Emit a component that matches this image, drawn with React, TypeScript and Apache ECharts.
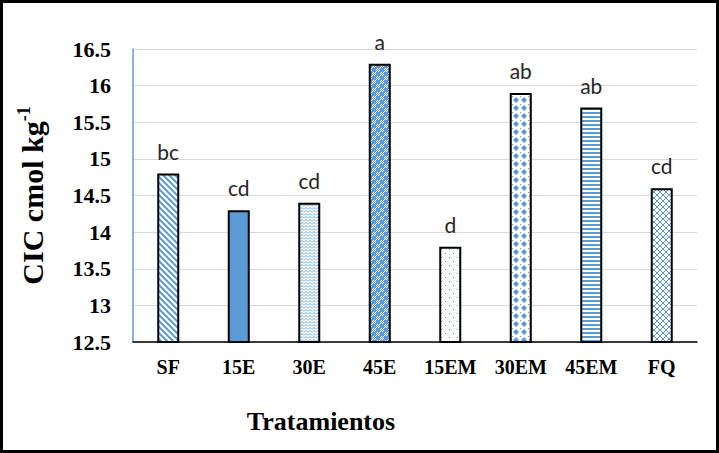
import React, { useEffect, useRef } from "react";
import * as echarts from "echarts";

const categories = ["SF", "15E", "30E", "45E", "15EM", "30EM", "45EM", "FQ"];
const values = [14.8, 14.3, 14.4, 16.3, 13.8, 15.9, 15.7, 14.6];
const letters = ["bc", "cd", "cd", "a", "d", "ab", "ab", "cd"];
const yMin = 12.5;
const yMax = 16.5;
const yStep = 0.5;
const xTitle = "Tratamientos";

const BLUE = "#5B9BD5";

function tile(w: number, h: number, draw: (ctx: CanvasRenderingContext2D) => void) {
  const c = document.createElement("canvas");
  c.width = w;
  c.height = h;
  const ctx = c.getContext("2d")!;
  ctx.fillStyle = "#ffffff";
  ctx.fillRect(0, 0, w, h);
  ctx.fillStyle = BLUE;
  ctx.strokeStyle = BLUE;
  draw(ctx);
  return { image: c, repeat: "repeat", imageWidth: w, imageHeight: h } as any;
}

function makePatterns(): any[] {
  const sf = tile(6, 6, (ctx) => {
    ctx.lineWidth = 2;
    for (let k = -1; k <= 1; k++) {
      ctx.beginPath();
      ctx.moveTo(-1, -1 + 6 * k);
      ctx.lineTo(7, 7 + 6 * k);
      ctx.stroke();
    }
  });
  const solid = BLUE;
  const wave = tile(4, 3, (ctx) => {
    ctx.lineWidth = 1;
    ctx.beginPath();
    ctx.moveTo(0, 2.5);
    ctx.lineTo(1, 1.5);
    ctx.lineTo(2, 0.5);
    ctx.lineTo(3, 1.5);
    ctx.lineTo(4, 2.5);
    ctx.stroke();
  });
  const checker = tile(8, 8, (ctx) => {
    ctx.fillRect(0, 0, 4, 4);
    ctx.fillRect(4, 4, 4, 4);
    for (let x = 0; x < 4; x++)
      for (let y = 0; y < 4; y++) {
        if ((x + y) % 2 === 0) {
          ctx.fillRect(4 + x, y, 1, 1);
          ctx.fillRect(x, 4 + y, 1, 1);
        }
      }
  });
  const dots = tile(8, 8, (ctx) => {
    ctx.fillRect(1, 1, 1, 1);
    ctx.fillRect(5, 5, 1, 1);
  });
  const diamond = tile(8, 8, (ctx) => {
    ctx.beginPath();
    ctx.moveTo(4, 1);
    ctx.lineTo(7, 4);
    ctx.lineTo(4, 7);
    ctx.lineTo(1, 4);
    ctx.closePath();
    ctx.fill();
    ctx.fillRect(0, 0, 1, 1);
  });
  const hlines = tile(4, 4, (ctx) => {
    ctx.fillRect(0, 0, 4, 2);
  });
  const cross = tile(6, 6, (ctx) => {
    ctx.lineWidth = 1;
    for (let k = -1; k <= 1; k++) {
      ctx.beginPath();
      ctx.moveTo(-1, -1 + 6 * k);
      ctx.lineTo(7, 7 + 6 * k);
      ctx.stroke();
      ctx.beginPath();
      ctx.moveTo(-1, 7 + 6 * k);
      ctx.lineTo(7, -1 + 6 * k);
      ctx.stroke();
    }
  });
  return [sf, solid, wave, checker, dots, diamond, hlines, cross];
}

export default function App() {
  const ref = useRef<HTMLDivElement>(null);
  useEffect(() => {
    if (!ref.current) return;
    const chart = echarts.init(ref.current, null, { renderer: "svg" });
    const patterns = makePatterns();
    const serif = "'Liberation Serif', 'Times New Roman', serif";
    chart.setOption({
      animation: false,
      backgroundColor: "#ffffff",
      grid: { left: 133, right: 22, top: 49, bottom: 111, containLabel: false },
      graphic: [
        {
          type: "rect",
          shape: { x: 1.5, y: 1.5, width: 716, height: 450 },
          style: { fill: "none", stroke: "#000", lineWidth: 3 },
          z: 100,
        },
        {
          type: "text",
          x: 321,
          y: 421,
          style: {
            text: xTitle,
            fontFamily: serif,
            fontWeight: "bold",
            fontSize: 26,
            fill: "#000",
            textAlign: "center",
            textVerticalAlign: "middle",
          },
        },
      ],
      xAxis: {
        type: "category",
        data: categories,
        axisTick: { show: false },
        axisLine: { lineStyle: { color: "#000", width: 1.5 } },
        axisLabel: {
          fontFamily: serif,
          fontWeight: "bold",
          fontSize: 20,
          color: "#000",
          margin: 15,
        },
      },
      yAxis: {
        type: "value",
        min: yMin,
        max: yMax,
        interval: yStep,
        axisLine: { show: true, lineStyle: { color: BLUE, width: 1.5 } },
        axisTick: { show: false },
        splitLine: { lineStyle: { color: "#D9D9D9", width: 1 } },
        axisLabel: {
          fontFamily: serif,
          fontWeight: "bold",
          fontSize: 22,
          color: "#000",
          margin: 22,
        },
        name: "{a|CIC cmol kg}{b|-1}",
        nameLocation: "middle",
        nameGap: 84,
        nameTextStyle: {
          rich: {
            a: { fontFamily: serif, fontWeight: "bold", fontSize: 30, color: "#000", lineHeight: 34 },
            b: { fontFamily: serif, fontWeight: "bold", fontSize: 18, color: "#000", verticalAlign: "top", lineHeight: 20 },
          },
        },
      },
      series: [
        {
          type: "bar",
          barWidth: 22,
          data: values.map((v, i) => ({
            value: v,
            itemStyle: { color: patterns[i] },
          })),
          itemStyle: { borderColor: "#000", borderWidth: 2 },
          label: {
            show: true,
            position: "top",
            distance: 12,
            formatter: (p: any) => letters[p.dataIndex],
            fontFamily: "Lato, 'Open Sans', sans-serif",
            fontSize: 21,
            color: "#262626",
          },
        },
      ],
    });
    return () => chart.dispose();
  }, []);
  return (
    <div
      ref={ref}
      style={{ position: "absolute", left: 0, top: 0, width: 719, height: 453 }}
    />
  );
}
